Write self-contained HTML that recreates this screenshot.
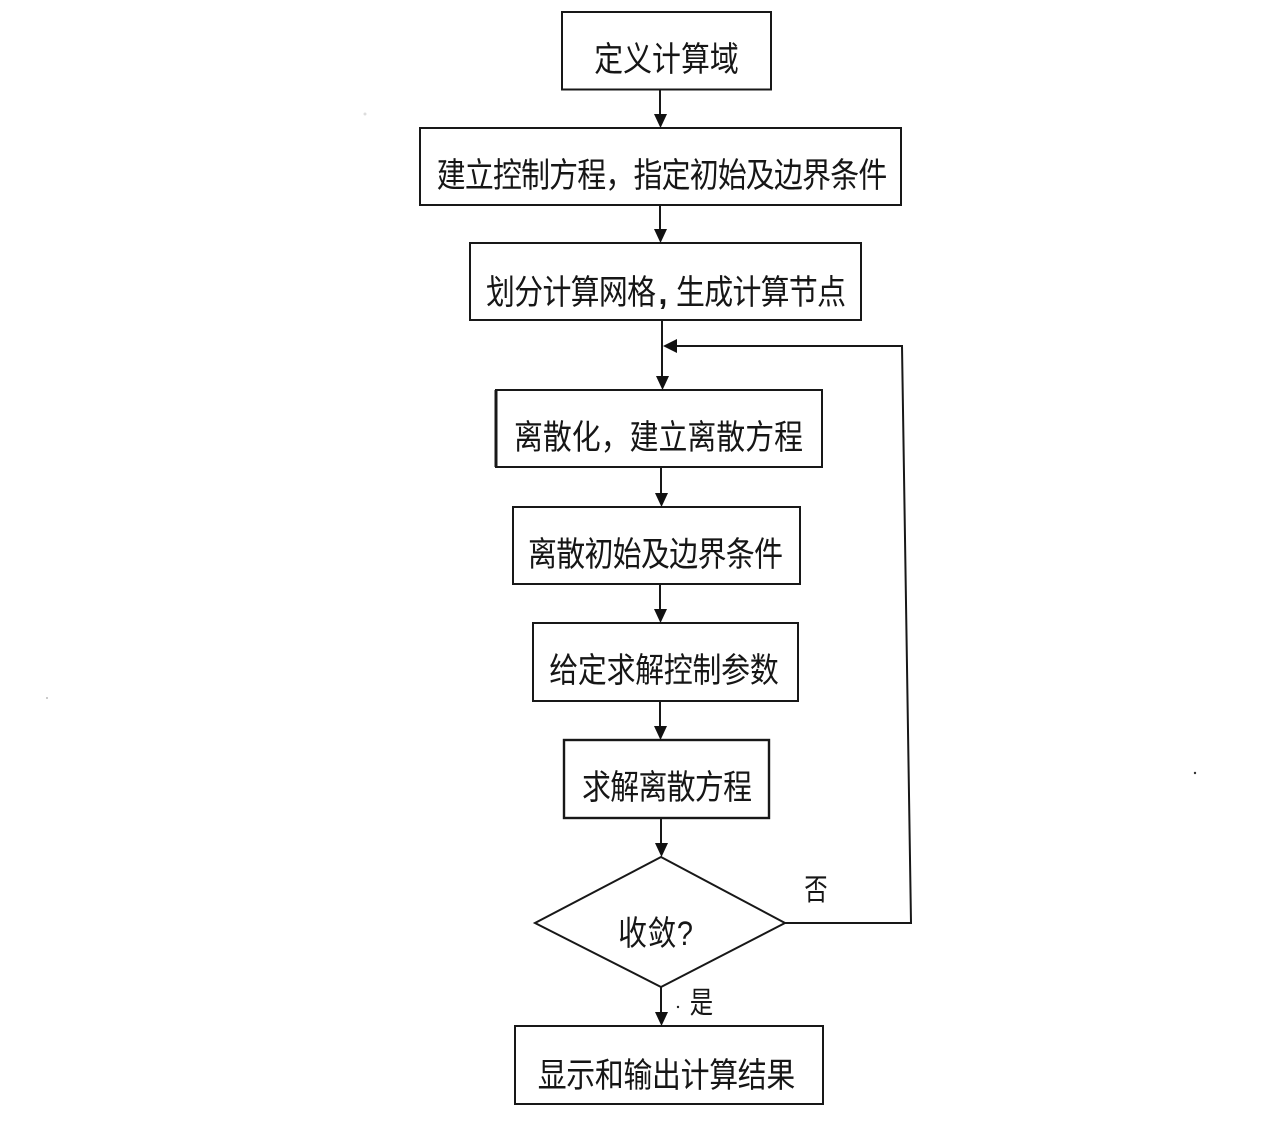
<!DOCTYPE html>
<html lang="zh">
<head>
<meta charset="utf-8">
<style>
html,body{margin:0;padding:0;background:#fff;width:1267px;height:1124px;overflow:hidden}
svg{display:block}
text{font-family:"Liberation Sans","Noto Sans CJK SC",sans-serif;fill:#161616;font-size:34px;text-anchor:middle}
rect,polygon.d{fill:#fff;stroke:#181818;stroke-width:2}
path.l{fill:none;stroke:#181818;stroke-width:2}
polygon.a{fill:#111}
</style>
</head>
<body>
<svg width="1267" height="1124" viewBox="0 0 1267 1124" xmlns="http://www.w3.org/2000/svg">
<rect x="562" y="12" width="209" height="77.5"/>
<rect x="420" y="128" width="481" height="77"/>
<rect x="470" y="243" width="391" height="77"/>
<rect x="496" y="390" width="326" height="77"/>
<path class="l" d="M496 390V467" style="stroke-width:3"/>
<rect x="513" y="507" width="287" height="77"/>
<rect x="533" y="623" width="265" height="78"/>
<rect x="564" y="740" width="205" height="78" style="stroke-width:2.400"/>
<polygon class="d" points="661,857 785,923 661,987 535,923"/>
<rect x="515" y="1026" width="308" height="78"/>

<path class="l" d="M660 89V116M660 205V232M662 320V379M661 467V496M660 584V612M660 701V729M661 818V846M661 987V1015"/>
<path class="l" d="M785 923H911L902 346H672"/>
<polygon class="a" points="654,114 667,114 660.500,128"/>
<polygon class="a" points="654,229 667,229 660.500,243"/>
<polygon class="a" points="656,376 669,376 662.500,390"/>
<polygon class="a" points="655,493 668,493 661.500,507"/>
<polygon class="a" points="654,609 667,609 660.500,623"/>
<polygon class="a" points="654,726 667,726 660.500,740"/>
<polygon class="a" points="655,843 668,843 661.500,857"/>
<polygon class="a" points="655,1012 668,1012 661.500,1026"/>
<polygon class="a" points="677,339 677,353 663,346"/>

<text transform="translate(666.500,71) scale(.85,1)" textLength="170">定义计算域</text>
<text transform="translate(662,187) scale(.85,1)" textLength="530">建立控制方程，指定初始及边界条件</text>
<text transform="translate(571,304) scale(.85,1)" textLength="200">划分计算网格</text>
<text x="663" y="304" style="font-size:32px;font-weight:bold">,</text>
<text transform="translate(761,304) scale(.85,1)" textLength="200">生成计算节点</text>
<text transform="translate(658.500,449) scale(.85,1)" textLength="340">离散化，建立离散方程</text>
<text transform="translate(655.500,566) scale(.85,1)" textLength="300">离散初始及边界条件</text>
<text transform="translate(664,682) scale(.85,1)" textLength="270">给定求解控制参数</text>
<text transform="translate(667,799) scale(.85,1)" textLength="200">求解离散方程</text>
<text transform="translate(655.500,945) scale(.85,1)" textLength="88">收敛?</text>
<text transform="translate(666.500,1087) scale(.85,1)" textLength="303">显示和输出计算结果</text>
<text transform="translate(816,900) scale(.78,1)" style="font-size:30px">否</text>
<text transform="translate(701.500,1013) scale(.78,1)" style="font-size:30px">是</text>
<circle cx="678" cy="1007" r="1.200" fill="#222"/>
<circle cx="1195" cy="773" r="1.200" fill="#333"/>
<circle cx="47" cy="698" r="1" fill="#bbb"/>
<circle cx="365" cy="114" r="1.500" fill="#ddd"/>
</svg>
</body>
</html>
